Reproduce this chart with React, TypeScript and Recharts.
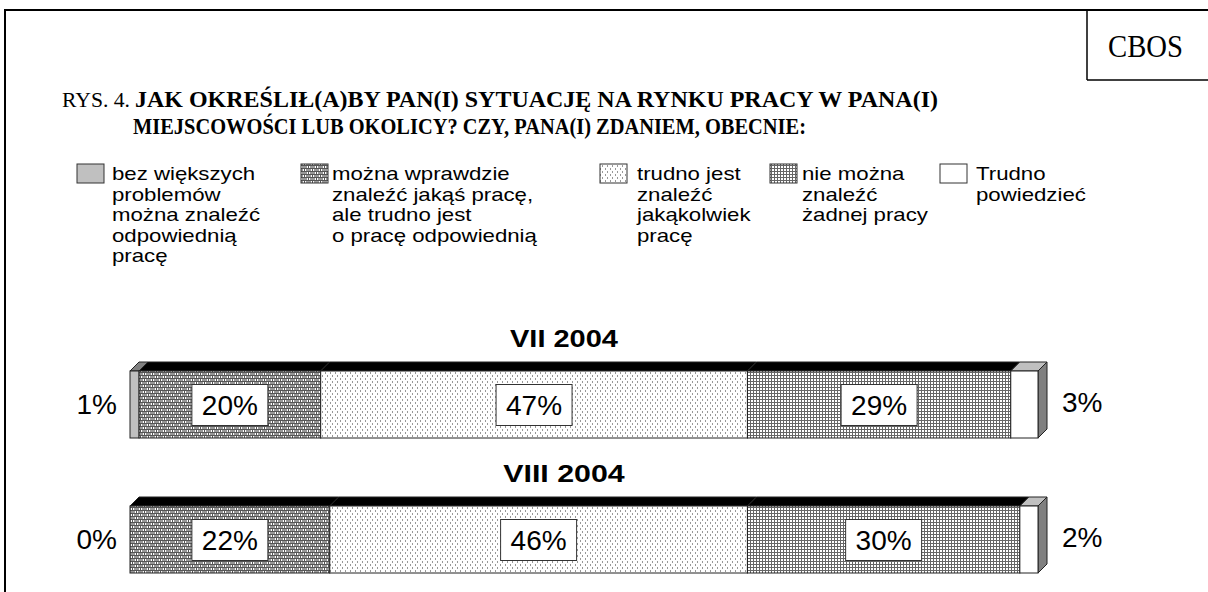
import React from "react";
import { BarChart, Bar, XAxis, YAxis, LabelList } from "recharts";

// survey waves
const periods = ["VII 2004", "VIII 2004"];

// answers, % of respondents
const bezProblemow = [1, 0];
const jakasPrace = [20, 22];
const jakakolwiekPrace = [47, 46];
const zadnejPracy = [29, 30];
const trudnoPowiedziec = [3, 2];

const seriesKeys = ["bez", "jakas", "jakakolwiek", "zadnej", "trudno"];

const legendLines = [
  ["bez większych", "problemów", "można znaleźć", "odpowiednią", "pracę"],
  ["można wprawdzie", "znaleźć jakąś pracę,", "ale trudno jest", "o pracę odpowiednią"],
  ["trudno jest", "znaleźć", "jakąkolwiek", "pracę"],
  ["nie można", "znaleźć", "żadnej pracy"],
  ["Trudno", "powiedzieć"],
];

const data = periods.map((period, i) => ({
  period,
  bez: bezProblemow[i],
  jakas: jakasPrace[i],
  jakakolwiek: jakakolwiekPrace[i],
  zadnej: zadnejPracy[i],
  trudno: trudnoPowiedziec[i],
}));

const SANS = "'Liberation Sans', Arial, sans-serif";
const SERIF = "'Liberation Serif', 'Times New Roman', serif";
const DEPTH = 9;

const fills = ["#c0c0c0", "url(#brick)", "url(#dots)", "url(#grid)", "#ffffff"];
const tops = ["#808080", "#000000", "#000000", "#000000", "#c0c0c0"];
const legendFills = ["#c0c0c0", "url(#lbrick)", "url(#ldots)", "url(#lgrid)", "#ffffff"];
const legendBoxX = [77, 301, 600, 770, 940];
const legendTextX = [112, 332, 637, 802, 976];

const makeShape = (fill: string, top: string, side?: string) => (props: any) => {
  const { x, y, width, height } = props;
  if (!width || width <= 0) return <g />;
  const d = DEPTH;
  return (
    <g>
      <polygon
        points={`${x},${y} ${x + d},${y - d} ${x + width + d},${y - d} ${x + width},${y}`}
        fill={top}
        stroke="#222"
        strokeWidth={1}
      />
      {side && (
        <polygon
          points={`${x + width},${y} ${x + width + d},${y - d} ${x + width + d},${y + height - d} ${x + width},${y + height}`}
          fill={side}
          stroke="#222"
          strokeWidth={1}
        />
      )}
      <rect x={x} y={y} width={width} height={height} fill={fill} stroke="#222" strokeWidth={1} />
    </g>
  );
};

const box = (p: any) => p.viewBox ?? p;

const InnerLabel = (p: any) => {
  const v = box(p);
  const cx = v.x + v.width / 2;
  const cy = v.y + v.height / 2;
  return (
    <g>
      <rect x={cx - 38} y={cy - 20} width={76} height={41} fill="#fff" stroke="#333" strokeWidth={1} />
      <text x={cx} y={cy + 1} textAnchor="middle" dominantBaseline="central" fontSize={28} fontFamily={SANS} fill="#000">
        {p.value}%
      </text>
    </g>
  );
};

const LeftLabel = (p: any) => {
  const v = box(p);
  return (
    <text x={v.x - 13} y={v.y + v.height / 2} textAnchor="end" dominantBaseline="central" fontSize={28} fontFamily={SANS} fill="#000">
      {p.value}%
    </text>
  );
};

const RightLabel = (p: any) => {
  const v = box(p);
  return (
    <text x={v.x + v.width + 24} y={v.y + v.height / 2 - 2} textAnchor="start" dominantBaseline="central" fontSize={28} fontFamily={SANS} fill="#000">
      {p.value}%
    </text>
  );
};

// wave title above each bar, centred over the whole chart
const PeriodLabel = (p: any) => {
  const v = box(p);
  const s = String(p.value);
  return (
    <text
      x={564}
      y={v.y - 24}
      textAnchor="middle"
      fontSize={23}
      fontWeight="bold"
      fontFamily={SANS}
      fill="#000"
      textLength={s.length * 13.5}
      lengthAdjust="spacingAndGlyphs"
    >
      {s}
    </text>
  );
};

const Patterns = ({ prefix }: { prefix: string }) => (
  <defs>
    <pattern id={`${prefix}brick`} width={8} height={6} patternUnits="userSpaceOnUse">
      <rect width={8} height={6} fill="#ffffff" />
      <rect y={0} width={8} height={1} fill="#555" />
      <rect y={3} width={8} height={1} fill="#555" />
      <rect x={0} y={1} width={1} height={2} fill="#555" />
      <rect x={4} y={4} width={1} height={2} fill="#555" />
      <rect x={2} y={1} width={5} height={2} fill="#999" />
      <rect x={6} y={4} width={2} height={2} fill="#999" />
      <rect x={0} y={4} width={3} height={2} fill="#999" />
    </pattern>
    <pattern id={`${prefix}dots`} width={5} height={6} patternUnits="userSpaceOnUse">
      <rect width={5} height={6} fill="#ffffff" />
      <rect x={0} y={0} width={1} height={2} fill="#999" />
      <rect x={2} y={3} width={1} height={2} fill="#999" />
    </pattern>
    <pattern id={`${prefix}grid`} width={3} height={3} patternUnits="userSpaceOnUse">
      <rect width={3} height={3} fill="#ffffff" />
      <rect width={3} height={1} fill="#666" />
      <rect width={1} height={3} fill="#666" />
    </pattern>
  </defs>
);

export default function App() {
  return (
    <div
      style={{
        position: "fixed",
        left: 0,
        top: 0,
        width: 1208,
        height: 592,
        overflow: "hidden",
        background: "#fff",
        fontFamily: SANS,
      }}
    >
      {/* frame, title */}
      <svg width={1208} height={592} style={{ position: "absolute", left: 0, top: 0 }}>
        <Patterns prefix="l" />
        <line x1={4} y1={10} x2={1208} y2={10} stroke="#000" strokeWidth={2} />
        <line x1={5} y1={10} x2={5} y2={592} stroke="#000" strokeWidth={2} />
        <line x1={1087} y1={10} x2={1087} y2={80} stroke="#000" strokeWidth={1.5} />
        <line x1={1087} y1={80} x2={1208} y2={80} stroke="#000" strokeWidth={1.5} />
        <text x={1108} y={57} fontSize={31} fontFamily={SERIF} textLength={75} lengthAdjust="spacingAndGlyphs">
          CBOS
        </text>
        <text x={62} y={107} fontSize={21} fontFamily={SERIF} textLength={68} lengthAdjust="spacingAndGlyphs">
          RYS. 4.
        </text>
        <text x={135} y={107} fontSize={22.5} fontWeight="bold" fontFamily={SERIF} textLength={803} lengthAdjust="spacingAndGlyphs">
          JAK OKREŚLIŁ(A)BY PAN(I) SYTUACJĘ NA RYNKU PRACY W PANA(I)
        </text>
        <text x={133} y={134} fontSize={22.5} fontWeight="bold" fontFamily={SERIF} textLength={673} lengthAdjust="spacingAndGlyphs">
          MIEJSCOWOŚCI LUB OKOLICY? CZY, PANA(I) ZDANIEM, OBECNIE:
        </text>
        {legendFills.map((f, i) => (
          <rect key={i} x={legendBoxX[i]} y={164} width={27} height={19} fill={f} stroke="#333" strokeWidth={1} />
        ))}
      </svg>

      {legendLines.map((lines, i) => (
        <div
          key={i}
          style={{
            position: "absolute",
            left: legendTextX[i],
            top: 164,
            fontSize: 18.5,
            lineHeight: "20.5px",
            whiteSpace: "pre",
            color: "#000",
            transform: "scaleX(1.2)",
            transformOrigin: "0 0",
          }}
        >
          {lines.join("\n")}
        </div>
      ))}

      <div style={{ position: "absolute", left: 0, top: 0 }}>
        <BarChart
          width={1208}
          height={620}
          data={data}
          layout="vertical"
          margin={{ top: 337, right: 170, bottom: 13, left: 130 }}
          barSize={67}
        >
          <Patterns prefix="" />
          <XAxis type="number" domain={[0, 100]} hide />
          <YAxis type="category" dataKey="period" hide />
          {seriesKeys.map((k, i) => (
            <Bar
              key={k}
              dataKey={k}
              stackId="a"
              isAnimationActive={false}
              shape={makeShape(fills[i], tops[i], i === seriesKeys.length - 1 ? "#808080" : undefined)}
            >
              {i === 0 && <LabelList dataKey={k} content={<LeftLabel />} />}
              {i === 0 && <LabelList dataKey="period" content={<PeriodLabel />} />}
              {i > 0 && i < seriesKeys.length - 1 && <LabelList dataKey={k} content={<InnerLabel />} />}
              {i === seriesKeys.length - 1 && <LabelList dataKey={k} content={<RightLabel />} />}
            </Bar>
          ))}
        </BarChart>
      </div>
    </div>
  );
}
